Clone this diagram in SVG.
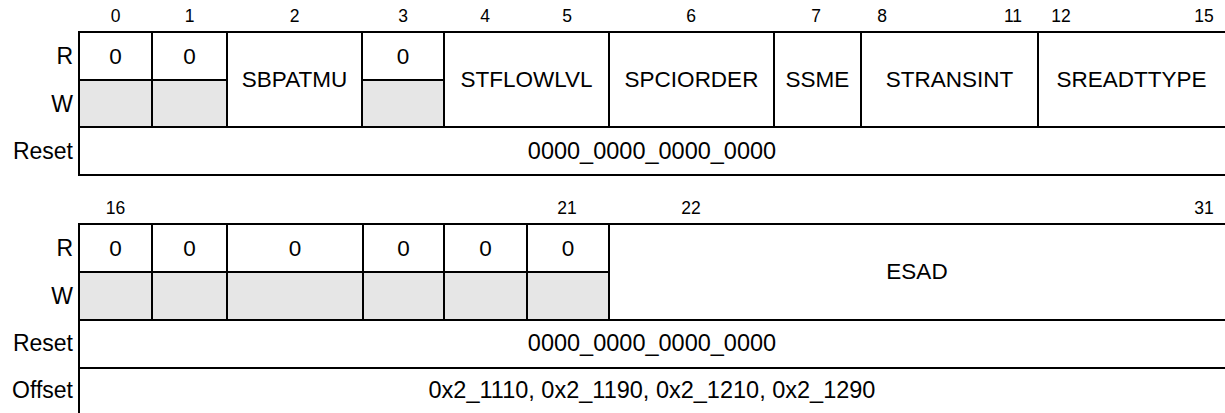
<svg xmlns="http://www.w3.org/2000/svg" width="1225" height="413" viewBox="0 0 1225 413">
<style>
text{font-family:"Liberation Sans",Arial,sans-serif;fill:#000}
.bit{font-size:17.5px;text-anchor:middle}
.lbl{font-size:23px;text-anchor:end}
.val{font-size:22.5px;text-anchor:middle}
.big{font-size:23.5px;text-anchor:middle}
.ro{fill:#e6e6e6}
.grid line{stroke:#000;stroke-width:2;stroke-linecap:square}
</style>
<rect x="0" y="0" width="1225" height="413" fill="#fff"/>
<g id="reg-top">
  <g id="top-bits">
    <text class="bit" x="115.5" y="21.5">0</text>
    <text class="bit" x="189.5" y="21.5">1</text>
    <text class="bit" x="294.5" y="21.5">2</text>
    <text class="bit" x="403" y="21.5">3</text>
    <text class="bit" x="485" y="21.5">4</text>
    <text class="bit" x="567" y="21.5">5</text>
    <text class="bit" x="691" y="21.5">6</text>
    <text class="bit" x="816" y="21.5">7</text>
    <text class="bit" x="882" y="21.5">8</text>
    <text class="bit" x="1013" y="21.5">11</text>
    <text class="bit" x="1061" y="21.5">12</text>
    <text class="bit" x="1204" y="21.5">15</text>
  </g>
  <g id="top-rowlabels">
    <text class="lbl" x="73" y="64">R</text>
    <text class="lbl" x="73" y="112">W</text>
    <text class="lbl" x="73" y="159">Reset</text>
  </g>
  <g id="f-bit0"><rect class="ro" x="79" y="80" width="73" height="47"/><text class="val" x="115.5" y="64">0</text></g>
  <g id="f-bit1"><rect class="ro" x="152" y="80" width="75" height="47"/><text class="val" x="189.5" y="64">0</text></g>
  <g id="f-sbpatmu"><text class="val" x="294.5" y="87">SBPATMU</text></g>
  <g id="f-bit3"><rect class="ro" x="362" y="80" width="82" height="47"/><text class="val" x="403" y="64">0</text></g>
  <g id="f-stflowlvl"><text class="val" x="526.5" y="87">STFLOWLVL</text></g>
  <g id="f-spciorder"><text class="val" x="691.5" y="87">SPCIORDER</text></g>
  <g id="f-ssme"><text class="val" x="817.5" y="87">SSME</text></g>
  <g id="f-stransint"><text class="val" x="949.5" y="87">STRANSINT</text></g>
  <g id="f-sreadttype"><text class="val" x="1131.5" y="87">SREADTTYPE</text></g>
  <g id="top-reset"><text class="big" x="652" y="159">0000_0000_0000_0000</text></g>
</g>
<g id="reg-bottom">
  <g id="bot-bits">
    <text class="bit" x="115.5" y="214">16</text>
    <text class="bit" x="567" y="214">21</text>
    <text class="bit" x="691" y="214">22</text>
    <text class="bit" x="1204" y="214">31</text>
  </g>
  <g id="bot-rowlabels">
    <text class="lbl" x="73" y="256">R</text>
    <text class="lbl" x="73" y="304">W</text>
    <text class="lbl" x="73" y="351">Reset</text>
    <text class="lbl" x="73" y="398">Offset</text>
  </g>
  <g id="f-bit16"><rect class="ro" x="79" y="272" width="73" height="48"/><text class="val" x="115.5" y="256">0</text></g>
  <g id="f-bit17"><rect class="ro" x="152" y="272" width="75" height="48"/><text class="val" x="189.5" y="256">0</text></g>
  <g id="f-bit18"><rect class="ro" x="227" y="272" width="136" height="48"/><text class="val" x="295" y="256">0</text></g>
  <g id="f-bit19"><rect class="ro" x="363" y="272" width="81" height="48"/><text class="val" x="403.5" y="256">0</text></g>
  <g id="f-bit20"><rect class="ro" x="444" y="272" width="83" height="48"/><text class="val" x="485.5" y="256">0</text></g>
  <g id="f-bit21"><rect class="ro" x="527" y="272" width="82" height="48"/><text class="val" x="568" y="256">0</text></g>
  <g id="f-esad"><text class="val" x="917" y="279">ESAD</text></g>
  <g id="bot-reset"><text class="big" x="652" y="351">0000_0000_0000_0000</text></g>
  <g id="bot-offset"><text class="big" x="652" y="398">0x2_1110, 0x2_1190, 0x2_1210, 0x2_1290</text></g>
</g>
<g id="connectors" class="grid">
  <line x1="79" y1="32" x2="1225" y2="32"/>
  <line x1="79" y1="80" x2="227" y2="80"/>
  <line x1="362" y1="80" x2="444" y2="80"/>
  <line x1="79" y1="127" x2="1225" y2="127"/>
  <line x1="79" y1="175" x2="1225" y2="175"/>
  <line x1="79" y1="32" x2="79" y2="175"/>
  <line x1="152" y1="32" x2="152" y2="127"/>
  <line x1="227" y1="32" x2="227" y2="127"/>
  <line x1="362" y1="32" x2="362" y2="127"/>
  <line x1="444" y1="32" x2="444" y2="127"/>
  <line x1="609" y1="32" x2="609" y2="127"/>
  <line x1="774" y1="32" x2="774" y2="127"/>
  <line x1="861" y1="32" x2="861" y2="127"/>
  <line x1="1038" y1="32" x2="1038" y2="127"/>
  <line x1="79" y1="224" x2="1225" y2="224"/>
  <line x1="79" y1="272" x2="609" y2="272"/>
  <line x1="79" y1="320" x2="1225" y2="320"/>
  <line x1="79" y1="368" x2="1225" y2="368"/>
  <line x1="79" y1="224" x2="79" y2="413"/>
  <line x1="152" y1="224" x2="152" y2="320"/>
  <line x1="227" y1="224" x2="227" y2="320"/>
  <line x1="363" y1="224" x2="363" y2="320"/>
  <line x1="444" y1="224" x2="444" y2="320"/>
  <line x1="527" y1="224" x2="527" y2="320"/>
  <line x1="609" y1="224" x2="609" y2="320"/>
</g>
</svg>
